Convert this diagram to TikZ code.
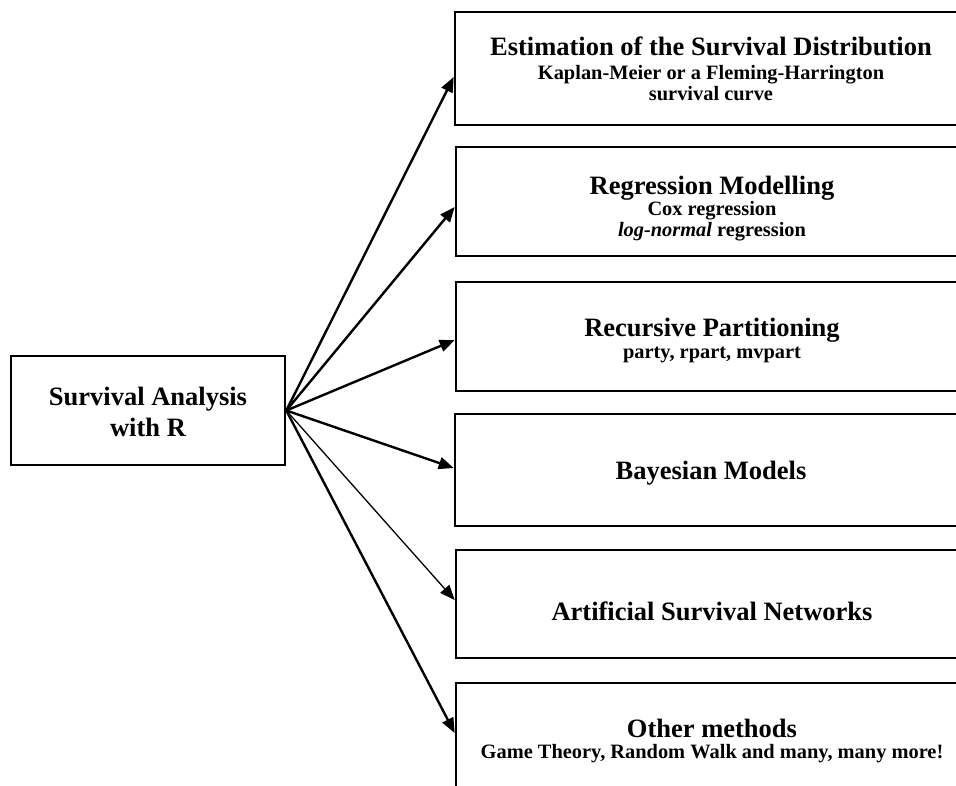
\documentclass[tikz,border=0pt]{standalone}
\usepackage{fontspec}
\setmainfont{Liberation Serif}
\usetikzlibrary{arrows.meta}
\newcommand{\ttl}{\fontsize{26.5}{21}\selectfont\spaceskip=0.25em\relax}
\newcommand{\sub}{\fontsize{20.4}{21}\selectfont\spaceskip=0.25em\relax}
\newcommand{\nolsk}{\lineskiplimit=-100pt\relax}
\newcommand{\tops}[1]{\rule{0pt}{#1pt}}
\newcommand{\bots}{\rule[-7pt]{0pt}{7pt}}
\tikzset{
  box/.style={draw=black, line width=2.6pt, rectangle, inner sep=0pt, align=center,
    font=\bfseries\sub\nolsk, text width=500pt},
  rbox/.style={box, minimum width=512pt},
  conn/.style={line width=2.4pt, -{Triangle[length=15pt,width=12pt]}},
  thinconn/.style={line width=1.3pt, -{Triangle[length=15pt,width=12pt]}},
}
\begin{document}
\begin{tikzpicture}[x=1pt,y=-1pt]
\useasboundingbox (0,0) rectangle (956,785);
\clip (0,0) rectangle (956,785);
\node[box, text width=260pt, minimum width=274pt, minimum height=109pt,
  font=\bfseries\fontsize{26.5}{31}\selectfont\nolsk] (L) at (148,410.5)
  {\spaceskip=0.25em\relax\tops{27}Survival Analysis\\with R\bots};
\node[rbox, minimum height=113pt] (b1) at (711,68.5)
  {{\ttl\tops{25}Estimation of the Survival Distribution}\\[3pt]\sub Kaplan-Meier or a Fleming-Harrington\\survival curve\bots};
\node[rbox, minimum height=109pt] (b2) at (712,201.5)
  {{\ttl\tops{34}Regression Modelling}\\\sub Cox regression\\\textit{log-normal} regression\bots};
\node[rbox, minimum height=109pt] (b3) at (712,336.5)
  {{\ttl\tops{28}Recursive Partitioning}\\[1pt]\sub party, rpart, mvpart\bots};
\node[rbox, minimum height=112pt] (b4) at (711,470)
  {{\ttl\tops{25}Bayesian Models\bots}};
\node[rbox, minimum height=108pt] (b5) at (712,604)
  {{\ttl\tops{39}Artificial Survival Networks\bots}};
\node[rbox, minimum height=110pt] (b6) at (712,738)
  {{\ttl\tops{26}Other methods}\\\sub Game Theory, Random Walk and many, many more!\bots};
\draw[conn] (L.east) -- ([yshift=-8.5pt]b1.west);
\draw[conn] (L.east) -- ([yshift=-5.5pt]b2.west);
\draw[conn] (L.east) -- ([yshift=-3.5pt]b3.west);
\draw[conn] (L.east) -- ([yshift=2pt]b4.west);
\draw[thinconn] (L.east) -- ([yshift=4pt]b5.west);
\draw[conn] (L.east) -- ([yshift=5pt]b6.west);
\end{tikzpicture}
\end{document}
